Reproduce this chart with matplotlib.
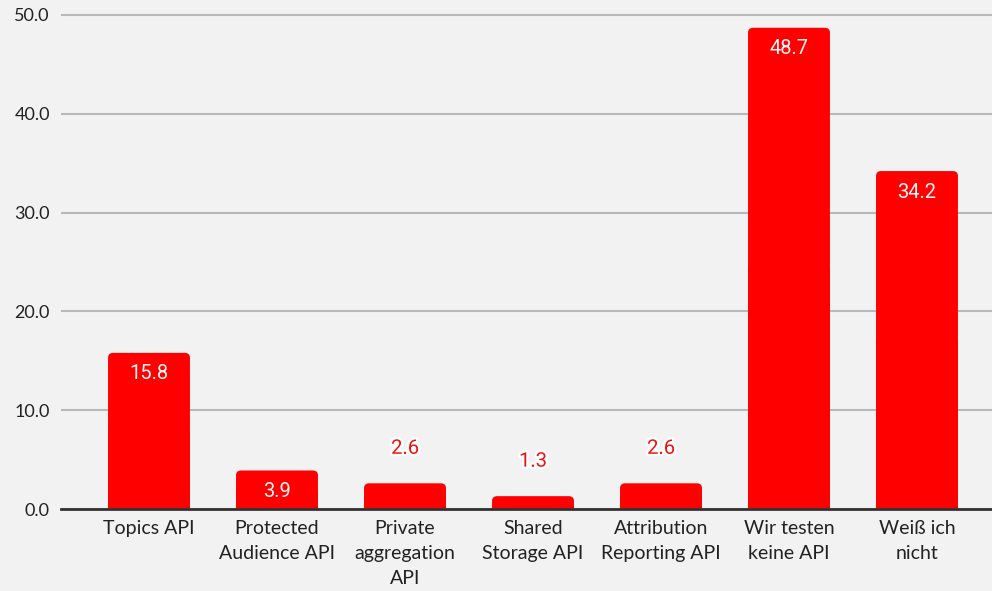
import matplotlib
matplotlib.use("Agg")
import matplotlib.pyplot as plt
import matplotlib.patheffects as pe
from matplotlib.patches import FancyBboxPatch, Rectangle

categories = ["Topics API", "Protected\nAudience API", "Private\naggregation\nAPI",
              "Shared\nStorage API", "Attribution\nReporting API", "Wir testen\nkeine API",
              "Weiß ich\nnicht"]
values = [15.8, 3.9, 2.6, 1.3, 2.6, 48.7, 34.2]
yticks = [0, 10, 20, 30, 40, 50]

BG = "#f2f2f2"
RED = "#ff0000"

plt.rcParams['font.family'] = ['Lato', 'DejaVu Sans']

fig = plt.figure(figsize=(9.92, 5.91), dpi=100, facecolor=BG)
ax = fig.add_axes([61 / 992, 82 / 591, 1 - 61 / 992, (591 - 82 - 10) / 591])
ax.set_facecolor(BG)

x = list(range(len(categories)))
width = 0.64
ax.set_xlim(-0.6875, 6.586)
ax.set_ylim(0, 50.5)

# rounded bars: rounded box on top, square block underneath for the flat bottom
r = 0.04
asp = 0.5 / r
for xi, v in zip(x, values):
    box = FancyBboxPatch((xi - width / 2, 0), width, v,
                         boxstyle="round,pad=0,rounding_size=%s" % r,
                         mutation_aspect=asp, facecolor=RED, edgecolor="none", zorder=3)
    ax.add_patch(box)
    ax.add_patch(Rectangle((xi - width / 2, 0), width, v / 2, facecolor=RED,
                           edgecolor="none", zorder=3))

for xi, v in zip(x, values):
    if v > 3:
        ax.annotate("%.1f" % v, (xi, v), xytext=(0, -21), textcoords="offset pixels",
                    ha="center", va="center", color="#f8f8f8", fontsize=14.5,
                    family=["Roboto", "DejaVu Sans"], zorder=5)
    else:
        ax.annotate("%.1f" % v, (xi, v), xytext=(0, 35), textcoords="offset pixels",
                    ha="center", va="center", color="#ee1111", fontsize=14.5,
                    family=["Roboto", "DejaVu Sans"], zorder=5,
                    path_effects=[pe.withStroke(linewidth=3.5, foreground="white")])

ax.set_yticks(yticks)
ax.set_yticklabels(["%.1f" % t for t in yticks], fontsize=13, color="#222222")
ax.set_xticks(x)
ax.set_xticklabels(categories, fontsize=14, color="#222222", linespacing=1.55)
ax.tick_params(axis="both", length=0)
ax.tick_params(axis="x", pad=8)
ax.tick_params(axis="y", pad=8)

ax.grid(axis="y", color="#b8b8b8", linewidth=1.5, zorder=0)
ax.set_axisbelow(True)
for s in ["top", "right", "left"]:
    ax.spines[s].set_visible(False)
ax.spines["bottom"].set_color("#333333")
ax.spines["bottom"].set_linewidth(2)
ax.spines["bottom"].set_zorder(4)

plt.savefig("out.png", dpi=100, facecolor=BG)
